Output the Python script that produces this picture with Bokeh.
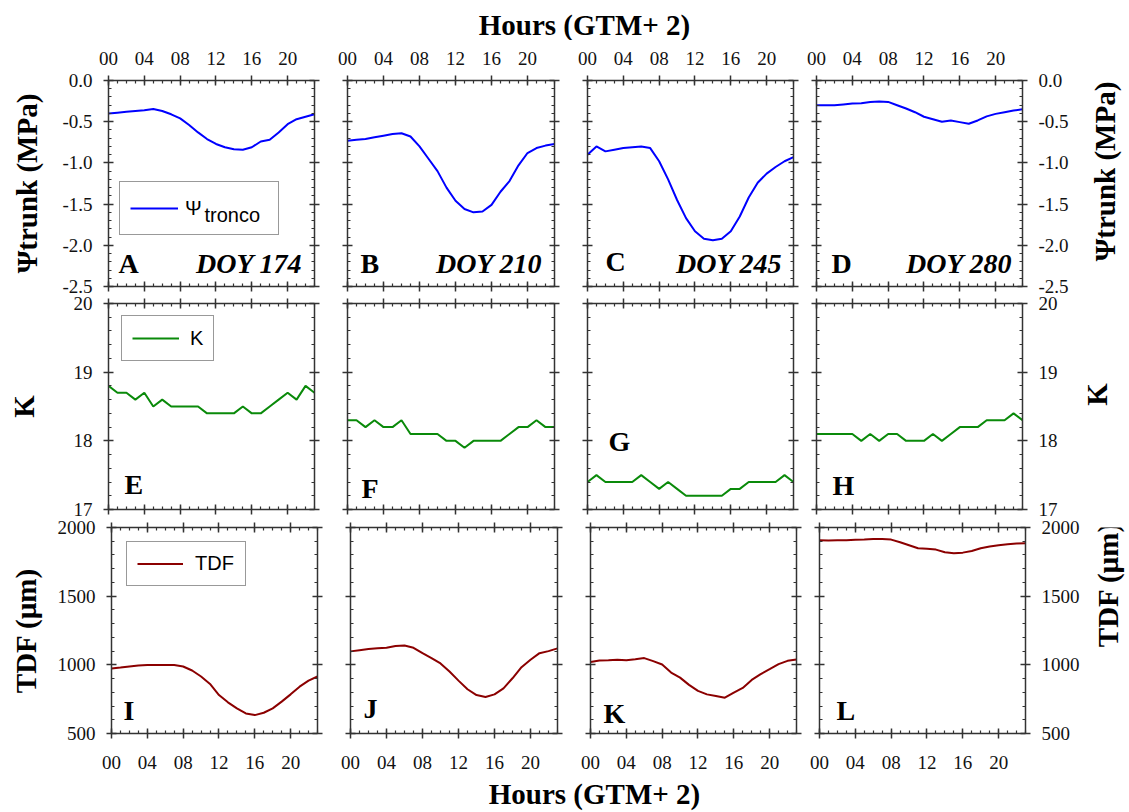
import math
from bokeh.plotting import figure
from bokeh.models import (Range1d, LinearAxis, FixedTicker, PrintfTickFormatter,
                          CustomJSTickFormatter, Label, Legend, LegendItem)
from bokeh.layouts import row, column
from bokeh.embed import file_html
from bokeh.resources import INLINE

# ---------------- data ----------------
hours = list(range(24))
hour_ticks = [0, 4, 8, 12, 16, 20]
hour_minor = list(range(24))

doy_labels = ["DOY 174", "DOY 210", "DOY 245", "DOY 280"]
panel_letters = ["A", "B", "C", "D", "E", "F", "G", "H", "I", "J", "K", "L"]

psi_174 = [-0.40, -0.39, -0.38, -0.37, -0.36, -0.345, -0.37, -0.41, -0.46, -0.54, -0.63, -0.71,
           -0.77, -0.81, -0.835, -0.84, -0.81, -0.74, -0.72, -0.63, -0.53, -0.47, -0.44, -0.41]
psi_210 = [-0.73, -0.72, -0.71, -0.69, -0.67, -0.65, -0.64, -0.68, -0.80, -0.95, -1.10, -1.30,
           -1.46, -1.56, -1.60, -1.59, -1.51, -1.35, -1.22, -1.03, -0.88, -0.82, -0.79, -0.77]
psi_245 = [-0.90, -0.80, -0.86, -0.84, -0.82, -0.81, -0.80, -0.82, -0.98, -1.20, -1.45, -1.67,
           -1.83, -1.92, -1.94, -1.92, -1.83, -1.65, -1.42, -1.24, -1.13, -1.05, -0.98, -0.93]
psi_280 = [-0.30, -0.30, -0.30, -0.29, -0.28, -0.275, -0.26, -0.255, -0.26, -0.30, -0.34, -0.385,
           -0.44, -0.47, -0.50, -0.485, -0.505, -0.525, -0.485, -0.435, -0.405, -0.385, -0.365, -0.35]

k_174 = [18.8, 18.7, 18.7, 18.6, 18.7, 18.5, 18.6, 18.5, 18.5, 18.5, 18.5, 18.4,
         18.4, 18.4, 18.4, 18.5, 18.4, 18.4, 18.5, 18.6, 18.7, 18.6, 18.8, 18.7]
k_210 = [18.3, 18.3, 18.2, 18.3, 18.2, 18.2, 18.3, 18.1, 18.1, 18.1, 18.1, 18.0,
         18.0, 17.9, 18.0, 18.0, 18.0, 18.0, 18.1, 18.2, 18.2, 18.3, 18.2, 18.2]
k_245 = [17.4, 17.5, 17.4, 17.4, 17.4, 17.4, 17.5, 17.4, 17.3, 17.4, 17.3, 17.2,
         17.2, 17.2, 17.2, 17.2, 17.3, 17.3, 17.4, 17.4, 17.4, 17.4, 17.5, 17.4]
k_280 = [18.1, 18.1, 18.1, 18.1, 18.1, 18.0, 18.1, 18.0, 18.1, 18.1, 18.0, 18.0,
         18.0, 18.1, 18.0, 18.1, 18.2, 18.2, 18.2, 18.3, 18.3, 18.3, 18.4, 18.3]

tdf_174 = [973, 980, 988, 995, 998, 998, 998, 998, 988, 959, 915, 861,
           780, 727, 683, 646, 634, 651, 683, 732, 785, 841, 885, 915]
tdf_210 = [1098, 1107, 1115, 1120, 1124, 1137, 1141, 1124, 1085, 1049, 1010, 951,
           885, 822, 780, 766, 785, 829, 902, 983, 1037, 1085, 1100, 1120]
tdf_245 = [1020, 1032, 1034, 1037, 1034, 1041, 1049, 1027, 1002, 944, 907, 854,
           810, 785, 773, 761, 798, 832, 890, 932, 968, 1005, 1029, 1039]
tdf_280 = [1907, 1905, 1907, 1907, 1910, 1912, 1917, 1917, 1912, 1893, 1871, 1849,
           1846, 1839, 1820, 1812, 1817, 1829, 1849, 1861, 1871, 1878, 1883, 1885]

psi_ticks = [-2.5, -2.0, -1.5, -1.0, -0.5, 0.0]
psi_minor = [round(-2.5 + 0.1 * i, 1) for i in range(26)]
k_ticks = [17, 18, 19, 20]
k_minor = [round(17 + 0.2 * i, 1) for i in range(16)]
tdf_ticks = [500, 1000, 1500, 2000]
tdf_minor = [500 + 100 * i for i in range(16)]

# ---------------- styling ----------------
SERIF = "Liberation Serif"
SANS = "Liberation Sans"
AX = "#333333"
BASE_FIX = 0.43  # empirical baseline correction (fraction of font size)
OVERLAP = 10     # rows overlap slightly (transparent borders) so edge tick labels fit


def style_axis(ax, labeled):
    ax.axis_line_color = AX
    ax.axis_line_width = 1.5
    ax.major_tick_line_color = AX
    ax.major_tick_line_width = 1.5
    ax.minor_tick_line_color = AX
    ax.minor_tick_line_width = 1.2
    ax.major_tick_in = 5
    ax.major_tick_out = 5
    ax.minor_tick_in = 3
    ax.minor_tick_out = 0
    if labeled:
        ax.major_label_text_font = SERIF
        ax.major_label_text_font_size = "19px"
        ax.major_label_text_color = "#111111"
    else:
        ax.formatter = CustomJSTickFormatter(code="return ''")
        ax.major_label_text_font_size = "0px"
        ax.major_label_standoff = 0


def blank_fig(w, h):
    t = figure(width=w, height=h, x_range=Range1d(0, 1), y_range=Range1d(0, 1),
               x_axis_location=None, y_axis_location=None, toolbar_location=None,
               tools="", output_backend="svg", min_border=0)
    t.outline_line_color = None
    t.grid.visible = False
    t.background_fill_alpha = 0
    t.border_fill_alpha = 0
    return t


rows_cfg = [
    dict(series=[psi_174, psi_210, psi_245, psi_280], color="#0000ff",
         rng=(-2.5, 0.0), ticks=psi_ticks, minor=psi_minor, fmt="%.1f",
         ylabel="\u03a8trunk (MPa)", bt=40, bb=12, lstand=16, side_w=45, rlab_x=20,
         widths=[331, 239, 235, 279], borders=[(108, 17), (16, 16), (17, 12), (11, 62)],
         letter_pos=[(10, 11), (13, 11), (18, 13), (15, 11)],
         doy_pos=[12, 12, 11, 10]),
    dict(series=[k_174, k_210, k_245, k_280], color="#0a8a0a",
         rng=(17.0, 20.0), ticks=k_ticks, minor=k_minor, fmt="%d",
         ylabel="K", bt=15, bb=12, lstand=31, side_w=57, rlab_x=24,
         widths=[331, 239, 235, 267], borders=[(108, 17), (16, 16), (17, 12), (11, 50)],
         letter_pos=[(16, 13), (14, 9), (21, 56), (16, 12)],
         doy_pos=None),
    dict(series=[tdf_174, tdf_210, tdf_245, tdf_280], color="#8b0000",
         rng=(500, 2000), ticks=tdf_ticks, minor=tdf_minor, fmt="%d",
         ylabel="TDF (\u00b5m)", bt=16, bb=46, lstand=13, side_w=45, rlab_x=23,
         widths=[334, 239, 235, 276], borders=[(111, 17), (16, 16), (17, 12), (11, 59)],
         letter_pos=[(12, 11), (13, 13), (13, 8), (17, 11)],
         doy_pos=None),
]

FRAME_H = 206
grid_rows = []
for ri, cfg in enumerate(rows_cfg):
    figs = []
    h = cfg["bt"] + FRAME_H + cfg["bb"]
    for ci in range(4):
        bl, br = cfg["borders"][ci]
        w = cfg["widths"][ci]
        fw = w - bl - br
        p = figure(width=w, height=h, x_range=Range1d(0, 23),
                   y_range=Range1d(cfg["rng"][0], cfg["rng"][1]),
                   x_axis_location=None, y_axis_location=None,
                   toolbar_location=None, tools="", output_backend="svg",
                   min_border_left=bl, min_border_right=br,
                   min_border_top=cfg["bt"], min_border_bottom=cfg["bb"])
        p.outline_line_color = None
        p.grid.visible = False
        p.background_fill_color = "white"
        p.border_fill_alpha = 0

        # x axes (top & bottom)
        for side in ("above", "below"):
            labeled = (ri == 0 and side == "above") or (ri == 2 and side == "below")
            ax = LinearAxis(ticker=FixedTicker(ticks=hour_ticks, minor_ticks=hour_minor),
                            formatter=PrintfTickFormatter(format="%02d"))
            style_axis(ax, labeled)
            if labeled:
                ax.major_label_standoff = 11 if side == "above" else 17
            p.add_layout(ax, side)
        # y axes (left & right)
        for side in ("left", "right"):
            labeled = (ci == 0 and side == "left") or (ci == 3 and side == "right")
            ax = LinearAxis(ticker=FixedTicker(ticks=cfg["ticks"], minor_ticks=cfg["minor"]),
                            formatter=PrintfTickFormatter(format=cfg["fmt"]))
            style_axis(ax, labeled)
            if labeled:
                ax.major_label_standoff = 11
                if side == "left":
                    ax.axis_label = cfg["ylabel"]
                    ax.axis_label_text_font = SERIF
                    ax.axis_label_text_font_style = "bold"
                    ax.axis_label_text_font_size = "29px"
                    ax.axis_label_text_color = "#000000"
                    ax.axis_label_standoff = cfg["lstand"]
            p.add_layout(ax, side)

        r = p.line(hours, cfg["series"][ci], line_color=cfg["color"], line_width=2)

        # panel letter
        lx, ly = cfg["letter_pos"][ci]
        p.add_layout(Label(x=lx, y=ly + BASE_FIX * 28, x_units="screen", y_units="screen",
                           text=panel_letters[ri * 4 + ci], text_font=SERIF,
                           text_font_style="bold", text_font_size="28px",
                           text_color="#000000", text_baseline="alphabetic"))
        if cfg["doy_pos"] is not None:
            p.add_layout(Label(x=fw - cfg["doy_pos"][ci], y=11 + BASE_FIX * 28,
                               x_units="screen", y_units="screen",
                               text=doy_labels[ci], text_font=SERIF,
                               text_font_style="bold italic", text_font_size="28px",
                               text_color="#000000", text_align="right",
                               text_baseline="alphabetic"))

        # legends in first column
        if ci == 0:
            if ri == 0:
                leg = Legend(items=[LegendItem(label="\u03a8", renderers=[r])],
                             location=(11, 51), padding=10, spacing=0, margin=0,
                             glyph_width=48, glyph_height=32, label_height=32,
                             label_width=83, label_standoff=7)
            elif ri == 1:
                leg = Legend(items=[LegendItem(label="K", renderers=[r])],
                             location=(13, 148), padding=10, spacing=0, margin=0,
                             glyph_width=47, glyph_height=24, label_height=24,
                             label_width=13, label_standoff=11)
            else:
                leg = Legend(items=[LegendItem(label="TDF", renderers=[r])],
                             location=(15, 147), padding=10, spacing=0, margin=0,
                             glyph_width=46, glyph_height=23, label_height=23,
                             label_width=40, label_standoff=12)
            leg.label_text_font = SANS
            leg.label_text_font_size = "20px"
            leg.label_text_color = "#000000"
            leg.border_line_color = AX
            leg.border_line_width = 1
            leg.background_fill_color = "white"
            leg.background_fill_alpha = 0.0 if ri == 0 else 1.0
            p.add_layout(leg)
            if ri == 0:
                p.add_layout(Label(x=96, y=63 + BASE_FIX * 20, x_units="screen",
                                   y_units="screen", text="tronco", text_font=SANS,
                                   text_font_size="20px", text_color="#000000",
                                   text_baseline="alphabetic"))
        figs.append(p)

    # strip on the right holding the rotated axis title (reads bottom-to-top)
    side_fig = blank_fig(cfg["side_w"], h)
    side_fig.add_layout(Label(x=cfg["rlab_x"], y=cfg["bb"] + FRAME_H / 2,
                              x_units="screen", y_units="screen", text=cfg["ylabel"],
                              text_font=SERIF, text_font_style="bold",
                              text_font_size="29px", text_color="#000000",
                              text_align="center", text_baseline="middle",
                              angle=math.pi / 2, angle_units="rad"))
    figs.append(side_fig)
    kw = {} if ri == 0 else {"margin": (-OVERLAP, 0, 0, 0)}
    grid_rows.append(row(*figs, spacing=0, **kw))


def title_fig(h, x, y):
    t = blank_fig(1129, h)
    t.add_layout(Label(x=x, y=y + BASE_FIX * 29, x_units="screen", y_units="screen",
                       text="Hours (GTM+ 2)", text_font=SERIF, text_font_style="bold",
                       text_font_size="29px", text_color="#000000",
                       text_align="center", text_baseline="alphabetic"))
    return t


header = title_fig(40, 584, 3)
footer = title_fig(33, 594, 6)

layout = column(header, *grid_rows, footer, spacing=0)

open("out.html", "w").write(file_html(layout, INLINE))
